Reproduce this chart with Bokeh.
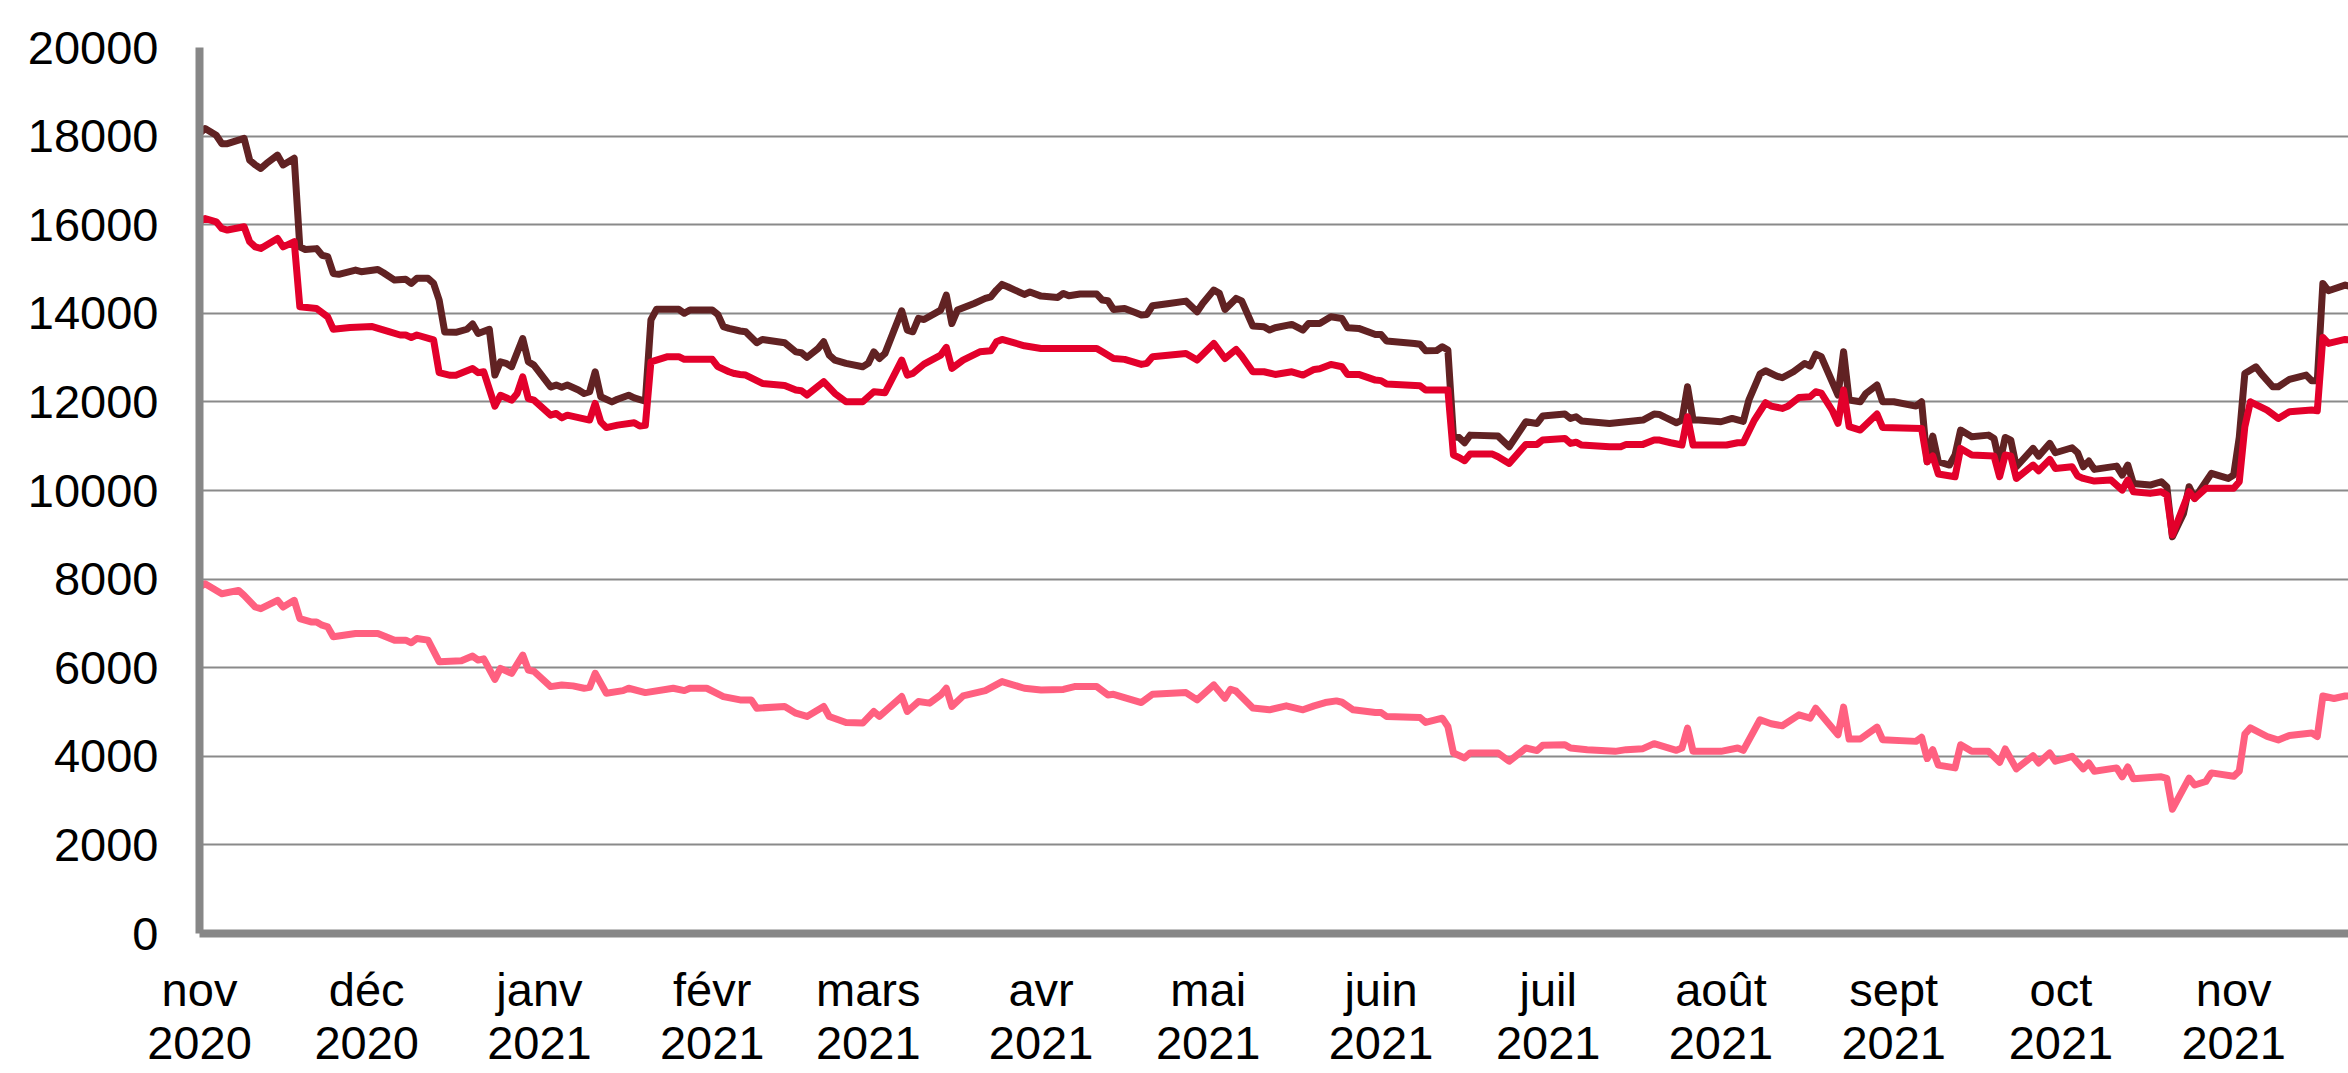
import pandas as pd
from bokeh.plotting import figure
from bokeh.models import FixedTicker, Range1d, NumeralTickFormatter
from bokeh.embed import file_html
from bokeh.resources import INLINE

# ---------------- data ----------------
START_DATE = "2020-11-01"          # day 0 of the series below
END_DAY = 385.6                    # last visible day of the axis

month_ticks = ["2020-11-01", "2020-12-01", "2021-01-01", "2021-02-01", "2021-03-01",
               "2021-04-01", "2021-05-01", "2021-06-01", "2021-07-01", "2021-08-01",
               "2021-09-01", "2021-10-01", "2021-11-01"]
month_labels = ["nov\n2020", "déc\n2020", "janv\n2021", "févr\n2021", "mars\n2021",
                "avr\n2021", "mai\n2021", "juin\n2021", "juil\n2021", "août\n2021",
                "sept\n2021", "oct\n2021", "nov\n2021"]
y_ticks = [0, 2000, 4000, 6000, 8000, 10000, 12000, 14000, 16000, 18000, 20000]

# series 1 (dark brown): days since START_DATE, values
dark_day = [0, 1, 3, 4, 5, 8, 9, 10, 11, 12, 14, 15, 17, 18, 19, 21, 22, 23, 24, 25, 28, 29, 32, 33,
            35, 37, 38, 39, 41, 42, 43, 44, 46, 48, 49, 50, 52, 53, 54, 55, 56, 58, 59, 60, 63, 64,
            65, 66, 68, 69, 70, 71, 72, 74, 75, 77, 78, 80, 81, 82, 84, 86, 87, 88, 92, 93, 94, 95,
            97, 98, 100, 101, 105, 107, 108, 109, 111, 112, 113, 114, 116, 119, 120, 121, 122, 123,
            126, 127, 128, 129, 130, 133, 134, 135, 136, 139, 141, 142, 143, 144, 145, 148, 149, 151,
            154, 155, 156, 158, 161, 162, 163, 164, 166, 168, 169, 170, 171, 174, 177, 179, 180, 182,
            183, 184, 186, 187, 189, 191, 192, 193, 196, 198, 199, 201, 203, 205, 206, 208, 211, 212,
            213, 218, 219, 220, 222, 223, 224, 225, 226, 227, 228, 233, 235, 238, 240, 241, 245, 246,
            247, 248, 253, 256, 259, 261, 262, 263, 265, 266, 267, 268, 269, 273, 275, 277, 278, 280,
            281, 283, 284, 286, 288, 289, 290, 291, 294, 295, 296, 298, 299, 301, 302, 304, 308, 309,
            310, 311, 312, 314, 315, 316, 318, 321, 322, 323, 324, 325, 326, 329, 330, 332, 333, 336,
            337, 338, 339, 340, 344, 345, 346, 347, 350, 352, 353, 354, 356, 357, 358, 359, 361, 364,
            365, 366, 367, 369, 370, 372, 373, 375, 378, 379, 380, 381, 382, 385, 386]
dark_val = [18060, 18170, 18020, 17830, 17830, 17950, 17460, 17350, 17270, 17380, 17570, 17350, 17500,
            15500, 15440, 15460, 15310, 15280, 14900, 14880, 14975, 14940, 14990, 14915, 14750, 14770,
            14675, 14790, 14790, 14675, 14300, 13580, 13570, 13640, 13760, 13545, 13640, 12605, 12905,
            12870, 12795, 13430, 12905, 12830, 12340, 12380, 12330, 12380, 12270, 12190, 12230, 12680,
            12115, 12000, 12060, 12150, 12090, 12015, 13850, 14090, 14090, 14090, 14000, 14075, 14075,
            13975, 13700, 13660, 13600, 13583, 13335, 13410, 13335, 13130, 13110, 13005, 13207, 13357,
            13057, 12944, 12870, 12793, 12870, 13130, 12980, 13095, 14057, 13620, 13583, 13885, 13860,
            14072, 14410, 13770, 14072, 14222, 14336, 14373, 14524, 14652, 14600, 14426, 14479, 14388,
            14358, 14449, 14396, 14434, 14434, 14298, 14283, 14087, 14110, 14012, 13960, 13975, 14170,
            14222, 14275, 14035, 14222, 14524, 14450, 14087, 14336, 14280, 13711, 13696, 13621, 13674,
            13749, 13621, 13771, 13771, 13922, 13884, 13674, 13659, 13523, 13523, 13373, 13320, 13300,
            13155, 13160, 13245, 13170, 11213, 11198, 11078, 11250, 11228, 10988, 11552, 11514, 11680,
            11725, 11627, 11665, 11567, 11514, 11552, 11590, 11725, 11715, 11650, 11530, 11590, 12342,
            11590, 11590, 11552, 11627, 11560, 12041, 12628, 12703, 12583, 12545, 12680, 12868, 12808,
            13079, 13019, 12154, 13132, 12041, 12003, 12191, 12380, 12003, 12003, 11906, 12003, 10649,
            11228, 10649, 10574, 10800, 11364, 11213, 11250, 11175, 10611, 11198, 11138, 10536, 10950,
            10777, 11063, 10852, 10965, 10852, 10536, 10664, 10476, 10551, 10348, 10574, 10160, 10122,
            10198, 10085, 8956, 9483, 10085, 9821, 10010, 10386, 10273, 10348, 11200, 12643, 12793,
            12628, 12342, 12342, 12507, 12605, 12477, 12477, 14674, 14509, 14637, 14600]

# series 2 (red)
red_day = [0, 1, 3, 4, 5, 8, 9, 10, 11, 14, 15, 17, 18, 21, 23, 24, 27, 31, 34, 36, 37, 38, 39, 42,
           43, 45, 46, 49, 50, 51, 53, 54, 56, 57, 58, 59, 60, 63, 64, 65, 66, 70, 71, 72, 73, 75,
           78, 79, 80, 81, 84, 86, 87, 92, 93, 95, 96, 97, 98, 101, 105, 107, 108, 109, 112, 114,
           116, 119, 121, 123, 126, 127, 128, 130, 133, 134, 135, 137, 140, 142, 143, 144, 148, 151,
           161, 162, 164, 166, 169, 170, 171, 177, 179, 182, 184, 186, 187, 189, 191, 193, 196, 198,
           200, 201, 203, 205, 206, 208, 211, 212, 213, 219, 220, 224, 225, 226, 227, 228, 232, 233,
           235, 238, 240, 241, 245, 246, 247, 248, 253, 255, 256, 259, 261, 262, 264, 266, 267, 268,
           274, 276, 277, 279, 281, 282, 284, 285, 287, 289, 290, 291, 293, 294, 295, 296, 298, 301,
           302, 309, 310, 311, 312, 315, 316, 318, 322, 323, 324, 325, 326, 329, 330, 332, 333, 336,
           337, 338, 340, 343, 345, 346, 347, 350, 352, 353, 354, 357, 358, 360, 365, 366, 367, 368,
           371, 373, 375, 379, 380, 381, 382, 385, 386]
red_val = [16065, 16140, 16065, 15915, 15880, 15955, 15615, 15500, 15465, 15690, 15500, 15615, 14150,
           14110, 13920, 13640, 13680, 13700, 13585, 13510, 13510, 13455, 13510, 13400, 12660, 12600,
           12600, 12755, 12660, 12680, 11905, 12150, 12040, 12190, 12565, 12075, 12040, 11700, 11740,
           11640, 11700, 11590, 11965, 11550, 11420, 11475, 11530, 11455, 11470, 12905, 13020, 13020,
           12960, 12960, 12795, 12680, 12640, 12620, 12605, 12417, 12372, 12267, 12252, 12154, 12455,
           12191, 12003, 12003, 12229, 12206, 12944, 12605, 12643, 12854, 13057, 13230, 12756, 12944,
           13130, 13155, 13357, 13410, 13267, 13207, 13207, 13130, 12980, 12960, 12846, 12870, 13020,
           13094, 12944, 13320, 12980, 13185, 13034, 12680, 12680, 12620, 12680, 12605, 12733, 12750,
           12846, 12793, 12620, 12620, 12492, 12480, 12402, 12364, 12267, 12267, 10800, 10747, 10672,
           10822, 10822, 10762, 10612, 11041, 11041, 11138, 11175, 11063, 11090, 11026, 10988, 10988,
           11041, 11041, 11138, 11138, 11078, 11026, 11665, 11026, 11026, 11078, 11078, 11590, 11981,
           11906, 11853, 11900, 12101, 12116, 12229, 12200, 11800, 11515, 12267, 11440, 11364, 11725,
           11424, 11401, 10650, 10777, 10371, 10311, 10950, 10800, 10777, 10311, 10800, 10780, 10273,
           10574, 10446, 10702, 10499, 10536, 10326, 10273, 10213, 10236, 10010, 10236, 9973, 9935,
           9973, 9897, 8994, 9973, 9821, 10048, 10048, 10198, 11439, 12003, 11815, 11627, 11778, 11815,
           11800, 13455, 13320, 13410, 13400]

# series 3 (pink)
pink_day = [0, 1, 4, 7, 8, 10, 11, 14, 15, 17, 18, 20, 21, 22, 23, 24, 28, 32, 35, 37, 38, 39, 41,
            43, 47, 49, 50, 51, 53, 54, 56, 58, 59, 60, 63, 65, 67, 69, 70, 71, 73, 76, 77, 80, 85,
            87, 88, 91, 94, 97, 99, 100, 105, 107, 109, 112, 113, 116, 119, 121, 122, 126, 127, 129,
            131, 133, 134, 135, 137, 141, 144, 148, 151, 155, 157, 161, 163, 164, 169, 171, 177, 179,
            182, 184, 185, 186, 189, 192, 195, 198, 200, 202, 204, 205, 207, 211, 212, 213, 219, 220,
            223, 224, 225, 227, 228, 233, 235, 238, 240, 241, 245, 246, 249, 254, 256, 259, 261, 265,
            266, 267, 268, 273, 276, 277, 280, 282, 284, 287, 289, 290, 294, 295, 296, 298, 301, 302,
            308, 309, 310, 311, 312, 315, 316, 318, 321, 323, 324, 326, 329, 330, 332, 333, 336, 338,
            339, 340, 344, 345, 346, 347, 352, 353, 354, 357, 358, 360, 361, 365, 366, 367, 368, 371,
            373, 375, 379, 380, 381, 383, 385, 386]
pink_val = [7820, 7895, 7670, 7745, 7633, 7370, 7333, 7520, 7370, 7520, 7109, 7034, 7034, 6959, 6922,
            6697, 6772, 6772, 6622, 6622, 6562, 6660, 6622, 6135, 6157, 6262, 6172, 6200, 5738, 5985,
            5873, 6285, 5948, 5920, 5573, 5611, 5590, 5536, 5555, 5873, 5423, 5483, 5536, 5438, 5536,
            5483, 5536, 5536, 5348, 5273, 5273, 5086, 5124, 4974, 4899, 5124, 4899, 4764, 4749, 5011,
            4899, 5348, 5011, 5236, 5200, 5386, 5536, 5124, 5363, 5483, 5686, 5536, 5498, 5510, 5573,
            5573, 5386, 5400, 5213, 5401, 5438, 5273, 5611, 5311, 5513, 5470, 5090, 5050, 5139, 5049,
            5139, 5213, 5251, 5220, 5049, 4989, 4989, 4899, 4876, 4764, 4861, 4674, 4075, 3963, 4075,
            4075, 3888, 4187, 4130, 4247, 4262, 4187, 4150, 4112, 4150, 4172, 4285, 4135, 4187, 4637,
            4112, 4112, 4187, 4135, 4824, 4734, 4689, 4936, 4861, 5086, 4487, 5109, 4390, 4390, 4659,
            4375, 4337, 4430, 3950, 4150, 3800, 3738, 4262, 4112, 4112, 3865, 4165, 3716, 4015, 3850,
            4075, 3888, 4000, 3716, 3850, 3663, 3738, 3536, 3760, 3491, 3536, 3500, 2806, 3508, 3352,
            3431, 3625, 3548, 3665, 4500, 4640, 4447, 4368, 4470, 4524, 4447, 5361, 5305, 5361, 5360]

# ---------------- figure ----------------
start = pd.Timestamp(START_DATE)


def to_dates(days):
    return start + pd.to_timedelta(days, unit="D")


p = figure(width=2348, height=1073, x_axis_type="datetime",
           output_backend="svg", toolbar_location=None,
           x_range=Range1d(start, start + pd.Timedelta(days=END_DAY)),
           y_range=Range1d(0, 20000),
           min_border_left=199, min_border_right=0,
           min_border_top=47, min_border_bottom=140)

p.outline_line_color = None
p.background_fill_color = "white"
p.border_fill_color = "white"

p.line(to_dates(pink_day), pink_val, line_color="#ff6080", line_width=7, line_join="round")
p.line(to_dates(dark_day), dark_val, line_color="#612223", line_width=7, line_join="round")
p.line(to_dates(red_day), red_val, line_color="#e3002b", line_width=7, line_join="round")

# grid
p.xgrid.visible = False
p.ygrid.ticker = FixedTicker(ticks=y_ticks)
p.ygrid.grid_line_color = "#8a8a8a"
p.ygrid.grid_line_width = 2

# y axis
p.yaxis.ticker = FixedTicker(ticks=y_ticks)
p.yaxis.formatter = NumeralTickFormatter(format="0")
# x axis
tick_ms = [float(pd.Timestamp(t).value // 10**6) for t in month_ticks]
p.xaxis.ticker = FixedTicker(ticks=tick_ms)
p.xaxis.major_label_overrides = {ms: lab for ms, lab in zip(tick_ms, month_labels)}

for ax in (p.xaxis, p.yaxis):
    ax.axis_line_color = "#878787"
    ax.axis_line_width = 8
    ax.major_tick_line_color = None
    ax.minor_tick_line_color = None
    ax.major_tick_out = 0
    ax.major_tick_in = 0
    ax.major_label_text_font = "Liberation Sans"
    ax.major_label_text_font_size = "47px"
    ax.major_label_text_color = "black"
    ax.major_label_text_line_height = 1.0

p.yaxis.major_label_standoff = 41
p.xaxis.major_label_standoff = 29

open("out.html", "w").write(file_html(p, INLINE))
